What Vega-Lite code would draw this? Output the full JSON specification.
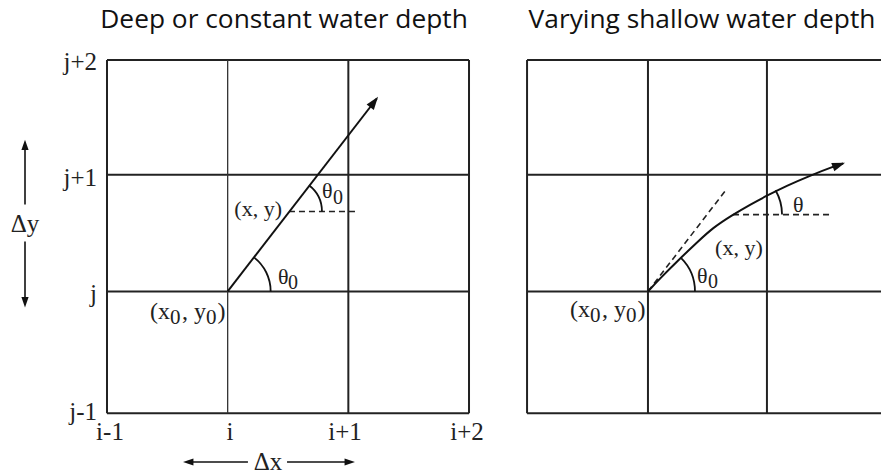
{
  "$schema": "https://vega.github.io/schema/vega-lite/v6.json",
  "width": 881,
  "height": 475,
  "padding": 0,
  "autosize": {"type": "fit", "contains": "padding"},
  "config": {"view": {"stroke": null}},
  "datasets": {
    "grid": [
      {"x": 0, "y": 0, "x2": 0, "y2": 3},
      {"x": 2, "y": 0, "x2": 2, "y2": 3},
      {"x": 3, "y": 0, "x2": 3, "y2": 3},
      {"x": 0, "y": 0, "x2": 3, "y2": 0},
      {"x": 0, "y": 1.034, "x2": 3, "y2": 1.034},
      {"x": 0, "y": 2.025, "x2": 3, "y2": 2.025},
      {"x": 0, "y": 3, "x2": 3, "y2": 3},
      {"x": 3.481, "y": 0, "x2": 3.481, "y2": 3},
      {"x": 4.483, "y": 0, "x2": 4.483, "y2": 3},
      {"x": 5.469, "y": 0, "x2": 5.469, "y2": 3},
      {"x": 6.47, "y": 0, "x2": 6.47, "y2": 3},
      {"x": 3.481, "y": 0, "x2": 6.47, "y2": 0},
      {"x": 3.481, "y": 1.034, "x2": 6.47, "y2": 1.034},
      {"x": 3.481, "y": 2.025, "x2": 6.47, "y2": 2.025},
      {"x": 3.481, "y": 3, "x2": 6.47, "y2": 3}
    ],
    "gridThin": [
      {"x": 1, "y": 0, "x2": 1, "y2": 3}
    ],
    "ray": [
      {"x": 1, "y": 1.034, "x2": 2.236, "y2": 2.672}
    ],
    "deltaLines": [
      {"x": -0.6795, "y": 1.771, "x2": -0.6795, "y2": 2.29},
      {"x": -0.6795, "y": 1.458, "x2": -0.6795, "y2": 0.93},
      {"x": 0.66, "y": -0.415, "x2": 1.168, "y2": -0.415},
      {"x": 1.492, "y": -0.415, "x2": 2.025, "y2": -0.415}
    ],
    "dashed": [
      {"x": 1.508, "y": 1.712, "x2": 2.055, "y2": 1.712},
      {"x": 5.188, "y": 1.686, "x2": 5.992, "y2": 1.686},
      {"x": 4.483, "y": 1.034, "x2": 5.138, "y2": 1.907}
    ],
    "curve": [
      {"x": 4.483, "y": 1.034},
      {"x": 4.583, "y": 1.144},
      {"x": 4.732, "y": 1.297},
      {"x": 4.889, "y": 1.449},
      {"x": 5.022, "y": 1.576},
      {"x": 5.188, "y": 1.686},
      {"x": 5.329, "y": 1.771},
      {"x": 5.469, "y": 1.847},
      {"x": 5.635, "y": 1.932},
      {"x": 5.826, "y": 2.017},
      {"x": 6.016, "y": 2.093},
      {"x": 6.1, "y": 2.12}
    ],
    "ticksCenter": [
      {"x": 0.025, "y": -0.161, "label": "i-1"},
      {"x": 1.019, "y": -0.161, "label": "i"},
      {"x": 1.972, "y": -0.161, "label": "i+1"},
      {"x": 2.983, "y": -0.161, "label": "i+2"},
      {"x": -0.6795, "y": 1.602, "label": "Δy"},
      {"x": 1.334, "y": -0.415, "label": "Δx"}
    ],
    "ticksRight": [
      {"x": -0.083, "y": 2.983, "label": "j+2"},
      {"x": -0.083, "y": 2.0, "label": "j+1"},
      {"x": -0.083, "y": 1.008, "label": "j"},
      {"x": -0.083, "y": 0.008, "label": "j-1"}
    ],
    "pointLabels": [
      {"x": 0.356, "y": 0.797, "label": "(x"},
      {"x": 0.622, "y": 0.797, "label": ", y"},
      {"x": 0.916, "y": 0.797, "label": ")"},
      {"x": 3.837, "y": 0.814, "label": "(x"},
      {"x": 4.102, "y": 0.814, "label": ", y"},
      {"x": 4.396, "y": 0.814, "label": ")"}
    ],
    "pointSubs": [
      {"x": 0.522, "y": 0.754, "label": "0"},
      {"x": 0.82, "y": 0.754, "label": "0"},
      {"x": 4.003, "y": 0.771, "label": "0"},
      {"x": 4.301, "y": 0.771, "label": "0"}
    ],
    "mainLeft": [
      {"x": 1.417, "y": 1.093, "label": "θ"},
      {"x": 1.782, "y": 1.831, "label": "θ"},
      {"x": 4.889, "y": 1.102, "label": "θ"},
      {"x": 5.685, "y": 1.712, "label": "θ"},
      {"x": 5.039, "y": 1.347, "label": "(x, y)"}
    ],
    "mainRight": [
      {"x": 1.45, "y": 1.678, "label": "(x, y)"}
    ],
    "subs": [
      {"x": 1.5, "y": 1.051, "label": "0"},
      {"x": 1.873, "y": 1.779, "label": "0"},
      {"x": 4.98, "y": 1.059, "label": "0"}
    ],
    "titles": [
      {"x": 1.467, "y": 3.339, "label": "Deep or constant water depth"},
      {"x": 4.931, "y": 3.339, "label": "Varying shallow water depth"}
    ]
  },
  "encoding": {
    "x": {"field": "x", "type": "quantitative", "scale": {"domain": [-0.8867, 6.4142], "nice": false, "zero": false}, "axis": null},
    "y": {"field": "y", "type": "quantitative", "scale": {"domain": [-0.5169, 3.5085], "nice": false, "zero": false}, "axis": null}
  },
  "layer": [
    {
      "data": {"name": "grid"},
      "mark": {"type": "rule", "color": "#222", "strokeWidth": 2, "clip": true},
      "encoding": {"x2": {"field": "x2"}, "y2": {"field": "y2"}}
    },
    {
      "data": {"name": "gridThin"},
      "mark": {"type": "rule", "color": "#333", "strokeWidth": 1.3},
      "encoding": {"x2": {"field": "x2"}, "y2": {"field": "y2"}}
    },
    {
      "data": {"name": "dashed"},
      "mark": {"type": "rule", "color": "#222", "strokeWidth": 1.6, "strokeDash": [6, 4]},
      "encoding": {"x2": {"field": "x2"}, "y2": {"field": "y2"}}
    },
    {
      "data": {"name": "ray"},
      "mark": {"type": "rule", "color": "#111", "strokeWidth": 2},
      "encoding": {"x2": {"field": "x2"}, "y2": {"field": "y2"}}
    },
    {
      "data": {"name": "deltaLines"},
      "mark": {"type": "rule", "color": "#111", "strokeWidth": 1.6},
      "encoding": {"x2": {"field": "x2"}, "y2": {"field": "y2"}}
    },
    {
      "data": {"name": "curve"},
      "mark": {"type": "line", "color": "#111", "strokeWidth": 2, "interpolate": "basis"},
      "encoding": {}
    },
    {
      "data": {"values": [{"x": 1, "y": 1.034}]},
      "mark": {"type": "arc", "filled": false, "stroke": "#111", "strokeWidth": 1.8, "theta": 0.65, "theta2": 1.5708, "radius": 43, "radius2": 43}
    },
    {
      "data": {"values": [{"x": 1.508, "y": 1.712}]},
      "mark": {"type": "arc", "filled": false, "stroke": "#111", "strokeWidth": 1.8, "theta": 0.65, "theta2": 1.5708, "radius": 33, "radius2": 33}
    },
    {
      "data": {"values": [{"x": 4.483, "y": 1.034}]},
      "mark": {"type": "arc", "filled": false, "stroke": "#111", "strokeWidth": 1.8, "theta": 0.785, "theta2": 1.5708, "radius": 47, "radius2": 47}
    },
    {
      "data": {"values": [{"x": 5.188, "y": 1.686}]},
      "mark": {"type": "arc", "filled": false, "stroke": "#111", "strokeWidth": 1.8, "theta": 1.05, "theta2": 1.5708, "radius": 49, "radius2": 49}
    },
    {
      "data": {"values": [{"x": 2.246, "y": 2.686}]},
      "mark": {"type": "point", "filled": true, "color": "#111", "opacity": 1, "size": 100, "shape": "M0,0L0.9,2.6L-0.9,2.6Z", "angle": 37}
    },
    {
      "data": {"values": [{"x": 6.116, "y": 2.127}]},
      "mark": {"type": "point", "filled": true, "color": "#111", "opacity": 1, "size": 100, "shape": "M0,0L0.9,2.6L-0.9,2.6Z", "angle": 70}
    },
    {
      "data": {"values": [{"x": -0.6795, "y": 2.322}]},
      "mark": {"type": "point", "filled": true, "color": "#111", "opacity": 1, "size": 64, "shape": "M0,0L0.9,2.6L-0.9,2.6Z", "angle": 0}
    },
    {
      "data": {"values": [{"x": -0.6795, "y": 0.898}]},
      "mark": {"type": "point", "filled": true, "color": "#111", "opacity": 1, "size": 64, "shape": "M0,0L0.9,2.6L-0.9,2.6Z", "angle": 180}
    },
    {
      "data": {"values": [{"x": 0.63, "y": -0.415}]},
      "mark": {"type": "point", "filled": true, "color": "#111", "opacity": 1, "size": 64, "shape": "M0,0L0.9,2.6L-0.9,2.6Z", "angle": 270}
    },
    {
      "data": {"values": [{"x": 2.055, "y": -0.415}]},
      "mark": {"type": "point", "filled": true, "color": "#111", "opacity": 1, "size": 64, "shape": "M0,0L0.9,2.6L-0.9,2.6Z", "angle": 90}
    },
    {
      "data": {"name": "ticksCenter"},
      "mark": {"type": "text", "font": "Liberation Serif", "fontSize": 25, "color": "#222", "align": "center", "baseline": "middle"},
      "encoding": {"text": {"field": "label"}}
    },
    {
      "data": {"name": "ticksRight"},
      "mark": {"type": "text", "font": "Liberation Serif", "fontSize": 25, "color": "#222", "align": "right", "baseline": "middle"},
      "encoding": {"text": {"field": "label"}}
    },
    {
      "data": {"name": "pointLabels"},
      "mark": {"type": "text", "font": "Liberation Serif", "fontSize": 24, "color": "#222", "align": "left", "baseline": "alphabetic"},
      "encoding": {"text": {"field": "label"}}
    },
    {
      "data": {"name": "pointSubs"},
      "mark": {"type": "text", "font": "Liberation Serif", "fontSize": 21, "color": "#222", "align": "left", "baseline": "alphabetic"},
      "encoding": {"text": {"field": "label"}}
    },
    {
      "data": {"name": "mainLeft"},
      "mark": {"type": "text", "font": "Liberation Serif", "fontSize": 22, "color": "#222", "align": "left", "baseline": "alphabetic"},
      "encoding": {"text": {"field": "label"}}
    },
    {
      "data": {"name": "mainRight"},
      "mark": {"type": "text", "font": "Liberation Serif", "fontSize": 22, "color": "#222", "align": "right", "baseline": "alphabetic"},
      "encoding": {"text": {"field": "label"}}
    },
    {
      "data": {"name": "subs"},
      "mark": {"type": "text", "font": "Liberation Serif", "fontSize": 20, "color": "#222", "align": "left", "baseline": "alphabetic"},
      "encoding": {"text": {"field": "label"}}
    },
    {
      "data": {"name": "titles"},
      "mark": {"type": "text", "font": "Open Sans", "fontSize": 26.3, "color": "#111", "align": "center", "baseline": "middle"},
      "encoding": {"text": {"field": "label"}}
    }
  ]
}
